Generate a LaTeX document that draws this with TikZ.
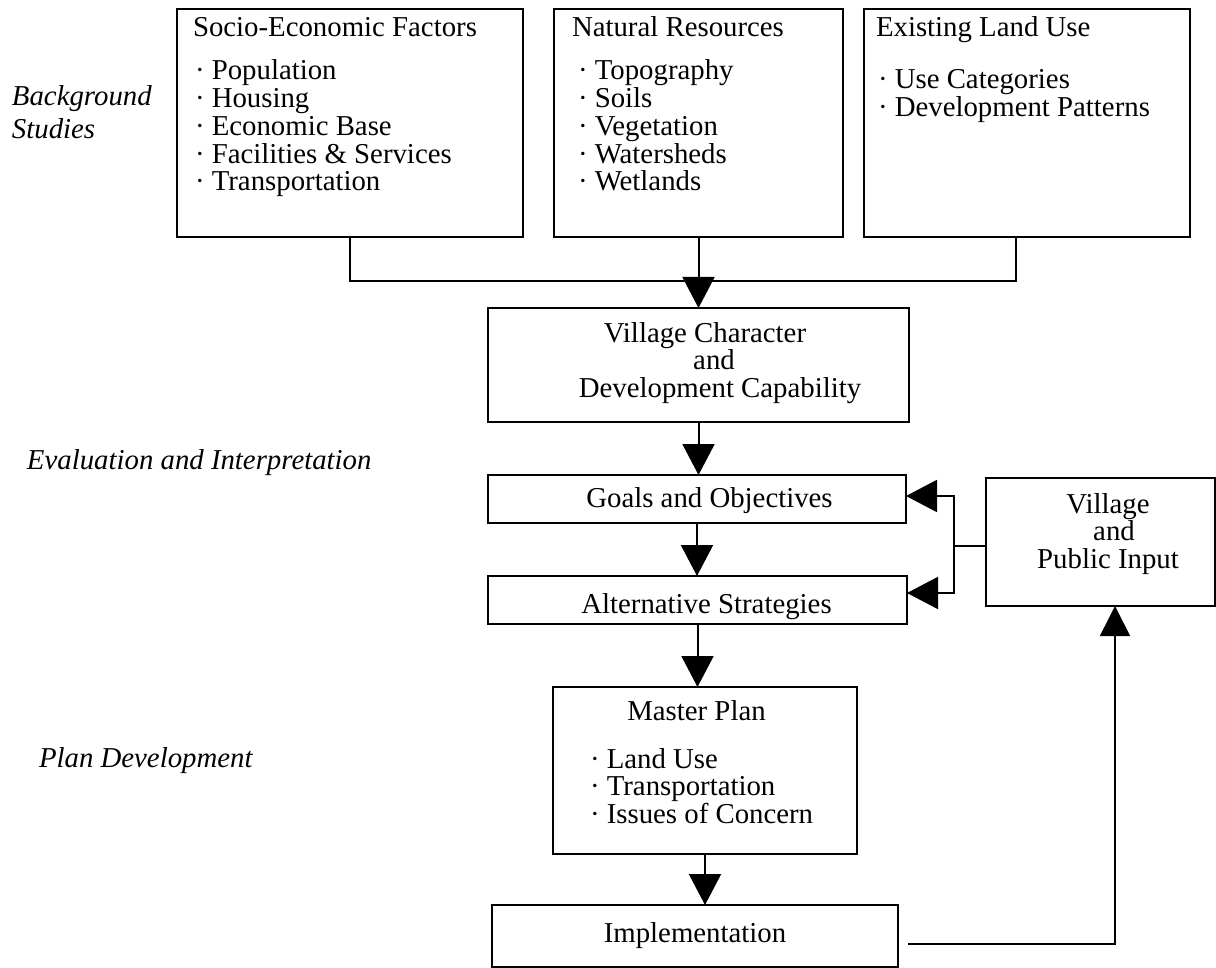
\documentclass[tikz,border=0pt]{standalone}
\usepackage{fontspec}
\setmainfont{Liberation Serif}
\usetikzlibrary{arrows.meta}
\begin{document}
\begin{tikzpicture}[x=1pt,y=-1pt,
  box/.style={draw, line width=2pt, inner sep=0pt, outer sep=0pt, anchor=north west},
  txt/.style={inner sep=0pt, outer sep=0pt, font=\fontsize{28.8}{27.7}\selectfont},
  lab/.style={inner sep=0pt, outer sep=0pt, font=\fontsize{28.8}{27.7}\selectfont\itshape, anchor=base west},
  conn/.style={line width=2pt},
  thin/.style={line width=1.6pt},
  arr/.style={conn, -{Triangle[length=31pt,width=32pt]}},
]
\useasboundingbox (0,0) rectangle (1216,968);

% boxes
\node[box, minimum width=346pt, minimum height=228pt] (soc) at (177,9) {};
\node[box, minimum width=289pt, minimum height=228pt] (nat) at (554,9) {};
\node[box, minimum width=326pt, minimum height=228pt] (ext) at (864,9) {};
\node[box, minimum width=421pt, minimum height=114pt] (vc) at (488,308) {};
\node[box, minimum width=418pt, minimum height=48pt] (goals) at (488,475) {};
\node[box, minimum width=419pt, minimum height=48pt] (alt) at (488,576) {};
\node[box, minimum width=304pt, minimum height=167pt] (master) at (553,687) {};
\node[box, minimum width=406pt, minimum height=62pt] (impl) at (492,905) {};
\node[box, minimum width=229pt, minimum height=128pt] (vpi) at (986,478) {};

% texts in top boxes
\node[txt, anchor=base west] (socT) at (193,37) {Socio-Economic Factors};
\foreach \t [count=\i] in {Population,Housing,Economic Base,Facilities \& Services,Transportation}
  \node[txt, anchor=base west] (soc\i) at (195,{80+27.7*(\i-1)}) {· \t};
\node[txt, anchor=base west] (natT) at (572,37) {Natural Resources};
\foreach \t [count=\i] in {Topography,Soils,Vegetation,Watersheds,Wetlands}
  \node[txt, anchor=base west] (nat\i) at (578,{80+27.7*(\i-1)}) {· \t};
\node[txt, anchor=base west] (extT) at (876,37) {Existing Land Use};
\node[txt, anchor=base west] (ext1) at (878,89) {· Use Categories};
\node[txt, anchor=base west] (ext2) at (878,116.5) {· Development Patterns};

% middle texts
\node[txt, anchor=base] (vc1) at (705,343) {Village Character};
\node[txt, anchor=base] (vc2) at (714,370) {and};
\node[txt, anchor=base] (vc3) at (720,397) {Development Capability};
\node[txt, anchor=base] (goalsT) at (709.5,507) {Goals and Objectives};
\node[txt, anchor=base] (altT) at (706.5,613) {Alternative Strategies};
\node[txt, anchor=base] (masterT) at (696.5,720) {Master Plan};
\foreach \t [count=\i] in {Land Use,Transportation,Issues of Concern}
  \node[txt, anchor=base west] (mp\i) at (590,{768+27.5*(\i-1)}) {· \t};
\node[txt, anchor=base] (implT) at (695,942) {Implementation};
\node[txt, anchor=base] (vpi1) at (1108,513) {Village};
\node[txt, anchor=base] (vpi2) at (1114,540) {and};
\node[txt, anchor=base] (vpi3) at (1108,568) {Public Input};

% side labels
\node[lab] (bg1) at (12,106) {Background};
\node[lab] (bg2) at (12,139) {Studies};
\node[lab] (ev) at (27,469) {Evaluation and Interpretation};
\node[lab] (pd) at (39,767) {Plan Development};

% connectors
\coordinate (join) at (698.5,281);
\draw[conn] (soc.south) |- (join) -| ([xshift=-11pt]ext.south);
\draw[arr] (nat.south) -- (nat.south |- vc.north);
\draw[arr] (vc.south) -- (vc.south |- goals.north);
\draw[arr] (goals.south) -- (goals.south |- alt.north);
\draw[arr] (alt.south) -- (alt.south |- master.north);
\draw[arr] (master.south) -- (master.south |- impl.north);

\coordinate (br) at (954,546);
\coordinate (bt) at (954,496);
\coordinate (bb) at (954,593);
\draw[conn] (vpi.west |- br) -- (br);
\draw[arr] (br) -- (bt) -- (bt -| goals.east);
\draw[arr] (br) -- (bb) -- (bb -| alt.east);

\coordinate (fs) at (908,944);
\draw[thin, -{Triangle[length=30pt,width=30pt]}] (fs) -| ([xshift=14.5pt]vpi.south);
\end{tikzpicture}
\end{document}
